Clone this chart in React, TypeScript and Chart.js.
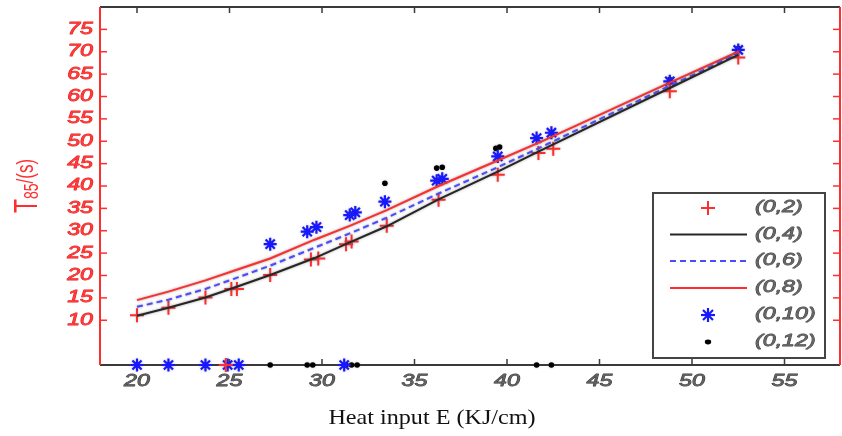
import React, { useEffect, useRef } from 'react';
import { Chart, registerables } from 'chart.js';

Chart.register(...registerables);

// Axis ticks
const xTicks = [20, 25, 30, 35, 40, 45, 50, 55];
const yTicks = [10, 15, 20, 25, 30, 35, 40, 45, 50, 55, 60, 65, 70, 75];

// Model curves (0,4), (0,6), (0,8)
const lineX = [20, 21.7, 23.7, 25.2, 27.2, 29.6, 31.5, 33.5, 36.3, 39.5, 42, 48.8, 52.5];
const line04 = [11.0, 12.8, 15.1, 17.2, 20.1, 23.9, 27.4, 31.0, 37.0, 43.2, 48.3, 61.9, 69.3];
const line06 = [13.0, 14.6, 17.0, 19.2, 22.2, 26.2, 29.4, 32.9, 38.3, 44.2, 49.0, 62.4, 69.6];
const line08 = [14.5, 16.4, 18.9, 21.0, 23.8, 28.0, 31.1, 34.6, 40.0, 45.7, 50.2, 63.1, 70.0];

// Measured points (0,2)
const p02X = [20, 21.7, 23.7, 24.8, 25.1, 25.4, 27.2, 29.4, 29.8, 31.3, 31.6, 33.5, 36.3, 39.5, 41.7, 42.5, 48.8, 52.5];
const p02Y = [11.1, 12.8, 15.1, 0, 17.0, 17.0, 20.1, 23.6, 23.8, 27.0, 27.6, 31.1, 36.9, 42.5, 47.4, 48.3, 61.2, 68.7];

// Measured points (0,10)
const p10X = [20, 21.7, 23.7, 24.9, 25.5, 31.2, 27.2, 29.2, 29.7, 31.5, 31.8, 33.4, 36.2, 36.5, 39.5, 41.6, 42.4, 48.8, 52.5];
const p10Y = [0, 0, 0, 0, 0, 0, 27.0, 29.8, 30.8, 33.5, 34.1, 36.5, 41.2, 41.6, 46.6, 50.7, 51.9, 63.4, 70.4];

// Measured points (0,12)
const p12X = [20, 21.7, 23.7, 24.9, 25.5, 27.2, 29.2, 29.5, 31.3, 31.6, 31.9, 41.6, 42.4, 33.4, 36.2, 36.5, 39.4, 39.6, 48.8, 52.5];
const p12Y = [0, 0, 0, 0, 0, 0, 0, 0, 0, 0, 0, 0, 0, 40.6, 44.0, 44.2, 48.4, 48.7, 63.8, 70.7];

const legendLabels = ['(0,2)', '(0,4)', '(0,6)', '(0,8)', '(0,10)', '(0,12)'];

const RED = '#ff2e2e';
const BLUE = '#1818ff';
const DASH_BLUE = '#4b4bff';
const LINE_BLACK = '#262626';
const FRAME = '#3a3a3a';
const SX = 1.45;

const pts = (xs: number[], ys: number[]) => xs.map((x, i) => ({ x, y: ys[i] }));

function stretchedText(ctx: CanvasRenderingContext2D, text: string, x: number, y: number, align: CanvasTextAlign, font: string, color: string, sx: number, stroke?: string) {
  ctx.save();
  ctx.translate(x, y);
  ctx.scale(sx, 1);
  ctx.font = font;
  ctx.fillStyle = color;
  ctx.textAlign = align;
  ctx.textBaseline = 'middle';
  if (stroke) {
    ctx.strokeStyle = stroke;
    ctx.lineWidth = 0.8;
    ctx.lineJoin = 'round';
    ctx.strokeText(text, 0, 0);
  }
  ctx.fillText(text, 0, 0);
  ctx.restore();
}

function seg(ctx: CanvasRenderingContext2D, x1: number, y1: number, x2: number, y2: number) {
  ctx.beginPath();
  ctx.moveTo(x1, y1);
  ctx.lineTo(x2, y2);
  ctx.stroke();
}

const framePlugin = {
  id: 'frame',
  beforeDatasetsDraw(chart: any) {
    const { ctx, chartArea: a, scales } = chart;
    const xs = scales.x;
    const ys = scales.y;
    ctx.save();
    ctx.lineCap = 'butt';
    ctx.strokeStyle = FRAME;
    ctx.lineWidth = 2;
    seg(ctx, a.left, a.bottom, a.right, a.bottom);
    seg(ctx, a.left, a.top, a.right, a.top);
    ctx.lineWidth = 1.5;
    for (const v of xTicks) {
      const px = xs.getPixelForValue(v);
      seg(ctx, px, a.bottom, px, a.bottom - 6);
      seg(ctx, px, a.top, px, a.top + 6);
    }
    ctx.strokeStyle = RED;
    ctx.lineWidth = 2;
    seg(ctx, a.left, a.top, a.left, a.bottom);
    seg(ctx, a.right, a.top, a.right, a.bottom);
    ctx.lineWidth = 1.5;
    for (const v of yTicks) {
      const py = ys.getPixelForValue(v);
      seg(ctx, a.left, py, a.left + 7, py);
      seg(ctx, a.right, py, a.right - 7, py);
    }
    ctx.restore();
  },
  beforeDatasetDraw(chart: any, args: any) {
    const ctx = chart.ctx;
    ctx.save();
    ctx.shadowColor = args.index < 3 ? 'rgba(70,70,70,0.55)' : 'rgba(90,90,90,0.35)';
    ctx.shadowBlur = 2.5;
  },
  afterDatasetDraw(chart: any) {
    chart.ctx.restore();
  },
  afterDraw(chart: any) {
    const { ctx, chartArea: a, scales } = chart;
    const xs = scales.x;
    const ys = scales.y;
    const tickFont = 'italic 16px "Liberation Sans", Arial, sans-serif';
    for (const v of yTicks) {
      stretchedText(ctx, String(v), 93, ys.getPixelForValue(v), 'right', tickFont, '#ff3a3a', SX, '#e82020');
    }
    for (const v of xTicks) {
      stretchedText(ctx, String(v), xs.getPixelForValue(v), a.bottom + 17, 'center', tickFont, '#606060', SX, '#3a3a3a');
    }

    // x title
    stretchedText(ctx, 'Heat input E (KJ/cm)', 432, 418, 'center', '21px "Liberation Serif", "Times New Roman", serif', '#111', 1.15);

    // y title: T_85/(s)
    ctx.save();
    ctx.translate(37, 213);
    ctx.scale(SX, 1);
    ctx.rotate(-Math.PI / 2);
    ctx.fillStyle = RED;
    ctx.textBaseline = 'alphabetic';
    ctx.textAlign = 'left';
    ctx.font = '23px "Liberation Sans", Arial, sans-serif';
    ctx.fillText('T', 0, 0);
    const tw = ctx.measureText('T').width;
    ctx.font = '14px "Liberation Sans", Arial, sans-serif';
    ctx.fillText('85', tw, 1);
    const sw = ctx.measureText('85').width;
    ctx.font = '17px "Liberation Sans", Arial, sans-serif';
    ctx.fillText('/(s)', tw + sw, -3);
    ctx.restore();

    // legend box
    const bx = 653, by = 193, bw = 172, bh = 165;
    ctx.save();
    ctx.fillStyle = '#ffffff';
    ctx.fillRect(bx, by, bw, bh);
    ctx.strokeStyle = '#444';
    ctx.lineWidth = 2;
    ctx.strokeRect(bx, by, bw, bh);
    const rowY = [208, 234.5, 261, 288, 315, 342];
    const sx1 = 670, sx2 = 747, cx = 708;
    // (0,2) cross
    ctx.strokeStyle = RED;
    ctx.lineWidth = 2;
    seg(ctx, cx - 7, rowY[0], cx + 7, rowY[0]);
    seg(ctx, cx, rowY[0] - 7, cx, rowY[0] + 7);
    // (0,4) black line
    ctx.strokeStyle = LINE_BLACK;
    ctx.lineWidth = 2;
    seg(ctx, sx1, rowY[1], sx2, rowY[1]);
    // (0,6) dashed
    ctx.strokeStyle = DASH_BLUE;
    ctx.setLineDash([6, 4]);
    seg(ctx, sx1, rowY[2], sx2, rowY[2]);
    ctx.setLineDash([]);
    // (0,8) red line
    ctx.strokeStyle = RED;
    seg(ctx, sx1, rowY[3], sx2, rowY[3]);
    // (0,10) star
    ctx.strokeStyle = BLUE;
    ctx.lineWidth = 2.2;
    const r = 7, d = 5;
    seg(ctx, cx - r, rowY[4], cx + r, rowY[4]);
    seg(ctx, cx, rowY[4] - r, cx, rowY[4] + r);
    seg(ctx, cx - d, rowY[4] - d, cx + d, rowY[4] + d);
    seg(ctx, cx - d, rowY[4] + d, cx + d, rowY[4] - d);
    // (0,12) dot
    ctx.fillStyle = '#000';
    ctx.beginPath();
    ctx.ellipse(cx, rowY[5], 3.2, 2.4, 0, 0, Math.PI * 2);
    ctx.fill();
    ctx.restore();
    legendLabels.forEach((t, i) => {
      stretchedText(ctx, t, 755, rowY[i], 'left', 'italic 16px "Liberation Sans", Arial, sans-serif', '#666', SX, '#444');
    });
  },
};

export default function App() {
  const ref = useRef<HTMLCanvasElement | null>(null);
  useEffect(() => {
    if (!ref.current) return;
    const lineCommon = { showLine: true, pointRadius: 0, borderWidth: 2, fill: false, tension: 0, clip: false as const };
    const chart = new Chart(ref.current, {
      type: 'scatter',
      data: {
        datasets: [
          { label: '(0,4)', data: pts(lineX, line04), borderColor: LINE_BLACK, ...lineCommon },
          { label: '(0,6)', data: pts(lineX, line06), borderColor: DASH_BLUE, borderDash: [6, 4], ...lineCommon },
          { label: '(0,8)', data: pts(lineX, line08), borderColor: RED, ...lineCommon },
          {
            label: '(0,2)', data: pts(p02X, p02Y), pointStyle: 'cross', pointRadius: 7, borderWidth: 2,
            borderColor: RED, backgroundColor: RED, clip: false,
          },
          {
            label: '(0,10)', data: pts(p10X, p10Y), pointStyle: 'star', pointRadius: 6.5, borderWidth: 2.2,
            borderColor: BLUE, backgroundColor: BLUE, clip: false,
          },
          {
            label: '(0,12)', data: pts(p12X, p12Y), pointStyle: 'circle', pointRadius: 2.8, borderWidth: 0,
            borderColor: '#000', backgroundColor: '#000', clip: false,
          },
        ] as any,
      },
      options: {
        animation: false,
        responsive: false,
        maintainAspectRatio: false,
        layout: { autoPadding: false, padding: { left: 0, top: 7, right: 2, bottom: 0 } },
        plugins: { legend: { display: false }, tooltip: { enabled: false }, title: { display: false } },
        scales: {
          x: {
            type: 'linear', min: 18, max: 58,
            grid: { display: false }, border: { display: false },
            ticks: { display: false },
            afterBuildTicks: (s: any) => { s.ticks = xTicks.map((v) => ({ value: v })); },
            afterFit: (s: any) => { s.height = 71; },
          },
          y: {
            type: 'linear', min: 0, max: 80,
            grid: { display: false }, border: { display: false },
            ticks: { display: false },
            afterBuildTicks: (s: any) => { s.ticks = yTicks.map((v) => ({ value: v })); },
            afterFit: (s: any) => { s.width = 100; },
          },
        },
      } as any,
      plugins: [framePlugin],
    });
    return () => chart.destroy();
  }, []);
  return (
    <div style={{ position: 'fixed', left: 0, top: 0, width: 842, height: 436, background: '#fff' }}>
      <canvas ref={ref} width={842} height={436} style={{ width: 842, height: 436, display: 'block' }} />
    </div>
  );
}
